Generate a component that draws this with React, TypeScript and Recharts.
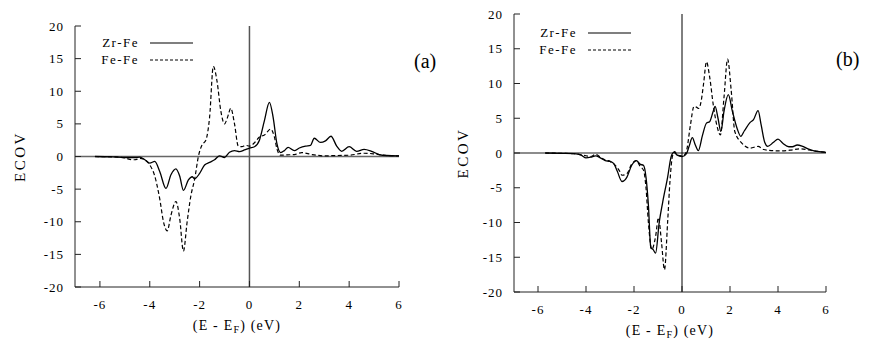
import React from "react";
import { Legend, Line, LineChart, ReferenceLine, XAxis, YAxis } from "recharts";

// panel (a)
const aZrFeX = [-6.2, -5.5, -5.0, -4.6, -4.4, -4.2, -4.0, -3.8, -3.6, -3.35, -3.15, -2.95, -2.8, -2.65, -2.45, -2.3, -2.2, -2.0, -1.8, -1.6, -1.4, -1.2, -1.0, -0.8, -0.6, -0.4, -0.2, 0, 0.2, 0.4, 0.6, 0.8, 0.95, 1.1, 1.25, 1.4, 1.55, 1.8, 2.0, 2.25, 2.45, 2.6, 2.85, 3.05, 3.27, 3.5, 3.7, 4.0, 4.3, 4.6, 4.9, 5.2, 5.5, 6.0];
const aZrFeY = [0, -0.05, -0.15, -0.15, -0.1, -0.5, -1.0, -0.75, -2.3, -4.9, -2.8, -1.9, -3.0, -5.2, -3.6, -3.1, -3.4, -2.6, -1.3, -0.9, -0.5, 0.1, -0.15, 0.65, 0.9, 0.75, 1.0, 1.3, 1.5, 2.5, 5.5, 8.3, 6.0, 2.0, 0.6, 0.9, 1.4, 0.9, 1.3, 1.6, 1.7, 2.8, 2.15, 2.4, 3.1, 1.6, 0.8, 1.5, 0.8, 1.1, 0.8, 0.3, 0.15, 0.1];
const aFeFeX = [-6.2, -5.5, -5.0, -4.8, -4.6, -4.4, -4.2, -4.0, -3.8, -3.6, -3.45, -3.3, -3.15, -2.95, -2.8, -2.65, -2.5, -2.35, -2.2, -2.05, -1.9, -1.75, -1.6, -1.45, -1.3, -1.15, -1.0, -0.88, -0.75, -0.6, -0.45, -0.3, -0.15, 0, 0.2, 0.4, 0.6, 0.85, 1.0, 1.1, 1.25, 1.5, 1.8, 2.1, 2.5, 3.0, 3.5, 4.0, 4.6, 5.0, 5.5, 6.0];
const aFeFeY = [0, -0.05, -0.2, -0.45, -0.5, -0.3, -0.5, -1.3, -3.0, -6.5, -10.0, -11.4, -9.0, -6.9, -9.5, -14.5, -10.0, -6.0, -3.5, 0, 1.8, 2.5, 6.0, 13.8, 11.5, 7.0, 5.0, 6.0, 7.4, 5.0, 1.6, 1.5, 1.7, 1.6, 2.1, 3.0, 3.3, 4.2, 3.0, 1.2, 0.2, 0.25, 0.3, 0.6, 0.3, 0.1, 0.15, 0.2, 0.5, 0.4, 0.15, 0.1];

// panel (b)
const bZrFeX = [-5.7, -5.0, -4.5, -4.2, -4.0, -3.8, -3.6, -3.4, -3.2, -3.0, -2.85, -2.7, -2.5, -2.3, -2.1, -1.9, -1.75, -1.6, -1.5, -1.4, -1.3, -1.2, -1.1, -0.95, -0.8, -0.6, -0.45, -0.34, -0.2, 0, 0.1, 0.2, 0.3, 0.43, 0.55, 0.68, 0.85, 1.02, 1.15, 1.3, 1.38, 1.5, 1.62, 1.75, 1.93, 2.1, 2.3, 2.45, 2.6, 2.84, 2.98, 3.17, 3.3, 3.45, 3.57, 3.8, 4.0, 4.2, 4.45, 4.6, 4.8, 5.0, 5.25, 5.5, 6.0];
const bZrFeY = [0, -0.05, -0.1, -0.3, -0.7, -0.6, -0.4, -0.7, -1.1, -1.2, -1.5, -2.6, -4.1, -3.5, -1.8, -1.1, -1.6, -1.8, -3.5, -7.5, -13.6, -13.9, -14.4, -10.0, -7.0, -3.5, -0.5, 0.1, -0.3, -0.5, -0.4, 0.0, 1.0, 2.2, 1.2, 0.35, 2.5, 4.3, 4.5, 6.0, 6.7, 5.0, 3.1, 6.0, 8.4, 6.0, 3.5, 2.4, 3.2, 4.4, 4.8, 6.1, 4.0, 1.5, 0.95, 1.5, 2.0, 1.4, 0.9, 0.9, 1.15, 1.0, 0.6, 0.3, 0.1];
const bFeFeX = [-5.7, -5.0, -4.5, -4.0, -3.8, -3.6, -3.4, -3.2, -3.0, -2.8, -2.6, -2.5, -2.3, -2.1, -1.9, -1.75, -1.6, -1.5, -1.4, -1.26, -1.1, -0.98, -0.85, -0.73, -0.6, -0.5, -0.4, -0.3, -0.2, 0, 0.1, 0.2, 0.35, 0.5, 0.6, 0.7, 0.8, 0.9, 1.02, 1.15, 1.3, 1.45, 1.6, 1.75, 1.9, 2.05, 2.2, 2.5, 2.84, 3.17, 3.4, 3.6, 4.0, 4.5, 4.9, 5.5, 6.0];
const bFeFeY = [0, -0.05, -0.1, -0.4, -0.5, -0.2, -0.6, -1.0, -1.2, -1.7, -2.6, -3.2, -3.0, -1.6, -1.1, -1.9, -2.5, -5.0, -10.0, -13.9, -12.0, -9.3, -13.0, -16.8, -10.0, -4.0, -0.5, 0.2, -0.3, -0.4, -0.3, 0.5, 4.0, 6.7, 6.6, 6.4, 7.5, 10.0, 13.1, 11.0, 7.0, 4.0, 2.6, 8.0, 13.5, 9.0, 3.1, 1.4, 0.7, 0.95, 0.5, 0.4, 0.3, 0.4, 0.6, 0.3, 0.1];

const xTicks = [-6, -4, -2, 0, 2, 4, 6];
const yTicks = [-20, -15, -10, -5, 0, 5, 10, 15, 20];
const seriesNames = ["Zr-Fe", "Fe-Fe"];

const FONT = "'Liberation Serif', 'Times New Roman', Times, 'DejaVu Serif', serif";
const serif = { fontFamily: FONT };
const zip = (xs: number[], ys: number[]) => xs.map((x, i) => ({ e: x, v: ys[i] }));

const XTitle = (props: any) => {
  const { x, y, width } = props.viewBox;
  return (
    <text x={x + width / 2} y={y + 43} textAnchor="middle" fontSize={14} letterSpacing={1.2} fill="#000" style={serif}>
      (E - E<tspan dy={3} fontSize={10}>F</tspan>
      <tspan dy={-3}>) (eV)</tspan>
    </text>
  );
};

const YTitle = (props: any) => {
  const { x, y, height } = props.viewBox;
  const cx = x + props.off;
  const cy = y + height / 2;
  return (
    <text x={cx} y={cy} transform={`rotate(-90 ${cx} ${cy})`} textAnchor="middle" dominantBaseline="central"
      fontSize={15} letterSpacing={2.5} fill="#000" style={serif}>
      ECOV
    </text>
  );
};

const KeyBox = () => (
  <svg width={110} height={36} style={{ display: "block" }}>
    {seriesNames.map((n, i) => (
      <g key={n}>
        <text x={44} y={14 + i * 17} textAnchor="end" fontSize={13} letterSpacing={1.5} fill="#000" style={serif}>{n}</text>
        <line x1={55} x2={98} y1={10 + i * 17} y2={10 + i * 17} stroke="#000" strokeWidth={1.2} strokeDasharray={i ? "3 2" : undefined} />
      </g>
    ))}
  </svg>
);

interface PanelProps {
  zr: { e: number; v: number }[];
  fe: { e: number; v: number }[];
  margin: { top: number; right: number; bottom: number; left: number };
  legendPos: { left: number; top: number };
  yTitleOff: number;
  vLine: string;
}

function Panel({ zr, fe, margin, legendPos, yTitleOff, vLine }: PanelProps) {
  const tickStyle = { fontSize: 13, fill: "#000", style: serif, letterSpacing: 1 };
  return (
    <LineChart width={440} height={342} margin={margin} style={serif}>
      <XAxis dataKey="e" type="number" domain={[-7, 6]} ticks={xTicks} allowDataOverflow
        stroke="#222" tickSize={-6} tickMargin={19} tick={tickStyle} height={30}
        label={<XTitle />} />
      <XAxis xAxisId="top" orientation="top" dataKey="e" type="number" domain={[-7, 6]} ticks={xTicks}
        allowDataOverflow stroke="#222" tickSize={-6} tickFormatter={() => ""} height={0} />
      <YAxis type="number" domain={[-20, 20]} ticks={yTicks} allowDataOverflow stroke="#222"
        tickSize={-6} tickMargin={17} tick={tickStyle} width={60}
        label={<YTitle off={yTitleOff} />} />
      <YAxis yAxisId="right" orientation="right" type="number" domain={[-20, 20]} ticks={yTicks}
        allowDataOverflow stroke="#222" tickSize={-6} tickFormatter={() => ""} width={0} />
      <ReferenceLine y={0} stroke="#666" strokeWidth={1.5} />
      <ReferenceLine x={0} stroke={vLine} strokeWidth={vLine === "#000" ? 1 : 1.5} />
      <Legend layout="vertical" align="center" verticalAlign="middle" content={<KeyBox />}
        wrapperStyle={{ left: legendPos.left, top: legendPos.top, width: 110, height: 36 }} />
      <Line data={zr} dataKey="v" name="Zr-Fe" type="monotone" stroke="#000" strokeWidth={1.3}
        dot={false} isAnimationActive={false} />
      <Line data={fe} dataKey="v" name="Fe-Fe" type="monotone" stroke="#000" strokeWidth={1.2}
        strokeDasharray="4 2.5" dot={false} isAnimationActive={false} />
    </LineChart>
  );
}

export default function App() {
  return (
    <div style={{ position: "absolute", left: 0, top: 0, width: 875, height: 342, background: "#fff", fontFamily: FONT }}>
      <div style={{ position: "absolute", left: 0, top: 0 }}>
        <Panel zr={zip(aZrFeX, aZrFeY)} fe={zip(aFeFeX, aFeFeY)}
          margin={{ top: 26, right: 41, bottom: 25, left: 15 }}
          legendPos={{ left: 95, top: 33 }} yTitleOff={5} vLine="#555" />
      </div>
      <div style={{ position: "absolute", left: 435, top: 0 }}>
        <Panel zr={zip(bZrFeX, bZrFeY)} fe={zip(bFeFeX, bFeFeY)}
          margin={{ top: 14, right: 49, bottom: 20, left: 19 }}
          legendPos={{ left: 98, top: 23 }} yTitleOff={9} vLine="#000" />
      </div>
      <div style={{ position: "absolute", left: 414, top: 50, fontSize: 20, color: "#000" }}>(a)</div>
      <div style={{ position: "absolute", left: 836, top: 48, fontSize: 20, color: "#000" }}>(b)</div>
    </div>
  );
}
